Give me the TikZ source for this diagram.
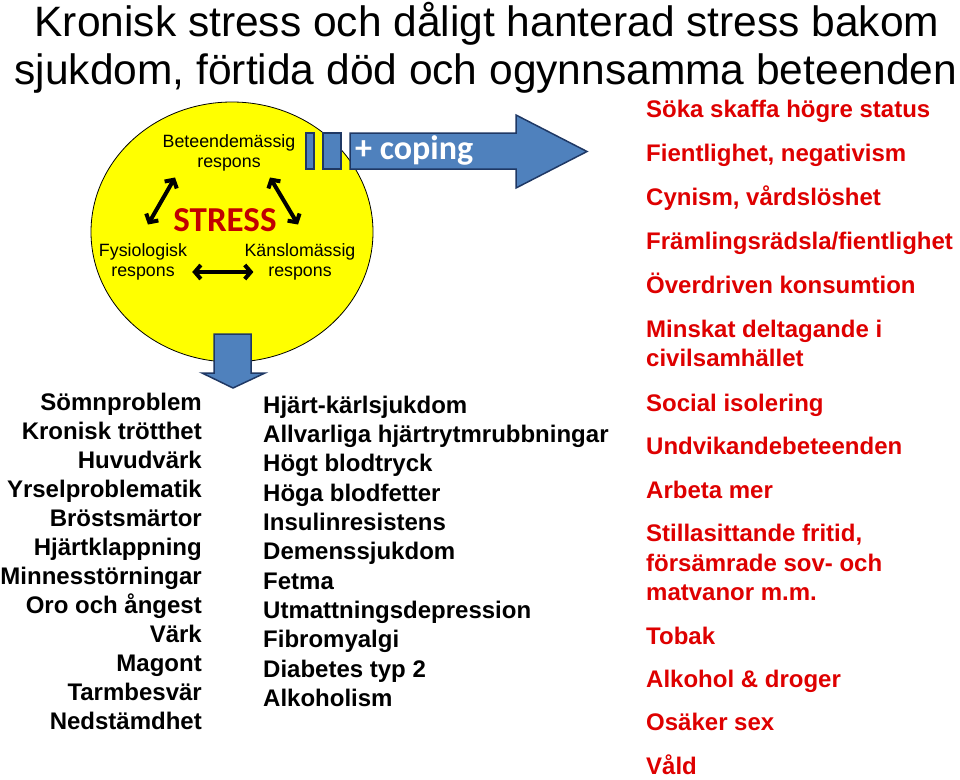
\documentclass[tikz,border=0pt]{standalone}
\usepackage{fontspec}
\setmainfont{Liberation Sans}
\newfontfamily\calfont{Carlito}
\usetikzlibrary{arrows.meta}

\definecolor{stressred}{RGB}{192,0,0}
\definecolor{listred}{RGB}{222,0,0}
\definecolor{copeblue}{RGB}{79,129,189}
\definecolor{copeedge}{RGB}{31,56,100}
\definecolor{sunyellow}{RGB}{255,255,0}

\tikzset{
  respons/.style={align=center, inner sep=0pt, font=\fontsize{17.8}{20}\selectfont},
  resparrow/.style={line width=4pt,
    {Straight Barb[length=6pt,width=14pt]}-{Straight Barb[length=6pt,width=14pt]}},
  bluearrow/.style={fill=copeblue, draw=copeedge, line width=1.5pt, line join=miter},
  listtext/.style={inner sep=0pt, font=\fontsize{24}{29}\selectfont\bfseries},
  titletext/.style={inner sep=0pt, anchor=base, font=\fontsize{42.5}{48}\selectfont}
}

\begin{document}
\begin{tikzpicture}[x=1pt, y=-1pt]
  \useasboundingbox (0,0) rectangle (960,779);

  % title
  \node (title1) [titletext] at (487,36) {Kronisk stress och dåligt hanterad stress bakom};
  \node (title2) [titletext] at (486,84) {sjukdom, förtida död och ogynnsamma beteenden};

  % yellow stress circle
  \draw [fill=sunyellow, line width=0.8pt] (232,232) ellipse [x radius=141, y radius=130];

  % + coping arrow
  \draw [bluearrow] (306,133) rectangle (314,169);
  \draw [bluearrow] (323,133) rectangle (341,169);
  \draw [bluearrow] (350,133) -- (516,133) -- (516,115) -- (587,151.5) -- (516,188)
        -- (516,169) -- (350,169) -- cycle;
  \node (coping) [anchor=base west, inner sep=0pt, text=white,
        font=\calfont\bfseries\fontsize{34}{34}\selectfont] at (355,159) {+ coping};

  % down arrow
  \draw [bluearrow] (214,334) -- (251,334) -- (251,373) -- (265,373) -- (233,388)
        -- (202,373) -- (214,373) -- cycle;

  % responses
  \node (bet) [respons] at (229,153) {Beteendemässig\\respons};
  \node (fys) [respons] at (143,262) {Fysiologisk\\respons};
  \node (kan) [respons] at (300,262) {Känslomässig\\respons};
  \node (stress) [inner sep=0pt, text=stressred,
        font=\calfont\bfseries\fontsize{35}{35}\selectfont] at (225,220) {STRESS};

  \draw [resparrow] ([shift={(5,-19)}]fys.north) -- ([shift={(-54,6)}]bet.south);
  \draw [resparrow] ([shift={(41,6)}]bet.south) -- ([shift={(-2,-19)}]kan.north);
  \draw [resparrow] ([shift={(5,10)}]fys.east) -- ([shift={(9,10)}]kan.west);

  % symptoms
  \foreach \txt [count=\i from 0] in {Sömnproblem, Kronisk trötthet, Huvudvärk,
      Yrselproblematik, Bröstsmärtor, Hjärtklappning, Minnesstörningar,
      Oro och ångest, Värk, Magont, Tarmbesvär, Nedstämdhet}
    \node (sym\i) [listtext, anchor=base east] at (202,410.7+29*\i) {\txt};

  % diseases
  \foreach \txt [count=\i from 0] in {Hjärt-kärlsjukdom, Allvarliga hjärtrytmrubbningar,
      Högt blodtryck, Höga blodfetter, Insulinresistens, Demenssjukdom, Fetma,
      Utmattningsdepression, Fibromyalgi, Diabetes typ 2, Alkoholism}
    \node (dis\i) [listtext, anchor=base west] at (263,413+29.37*\i) {\txt};

  % behaviours
  \foreach \yy/\txt [count=\i] in {117/Söka skaffa högre status,
      161.5/{Fientlighet, negativism}, 205/{Cynism, vårdslöshet},
      249/{Främlingsrädsla/fientlighet}, 293/Överdriven konsumtion,
      337/Minskat deltagande i, 366/civilsamhället, 411/Social isolering,
      454/Undvikandebeteenden, 498/Arbeta mer, 541/{Stillasittande fritid,},
      571/försämrade sov- och, 600.5/matvanor m.m., 644/Tobak,
      687.5/Alkohol \& droger, 730.5/Osäker sex, 774.5/Våld}
    \node (beh\i) [listtext, anchor=base west, text=listred] at (646,\yy) {\txt};
\end{tikzpicture}
\end{document}
